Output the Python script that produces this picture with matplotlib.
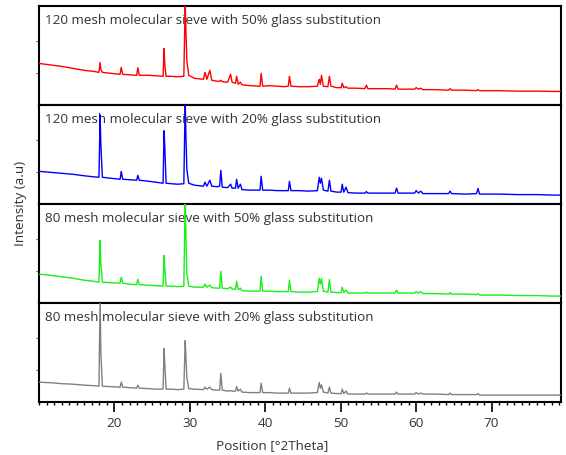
import matplotlib
matplotlib.use("Agg")
import matplotlib.pyplot as plt
from matplotlib.ticker import MultipleLocator

plt.rcParams['font.family'] = ['Open Sans', 'DejaVu Sans']

# 2Theta positions (shared by all four patterns)
two_theta = [10.0, 11.5, 13.0, 14.5, 16.0, 17.2, 17.95, 18.1, 18.2, 18.4,
             19.5, 20.75, 20.9, 21.1, 22.0, 22.95, 23.1, 23.3, 24.5, 25.5,
             26.45, 26.58, 26.68, 26.85, 27.5, 28.4, 29.2, 29.38, 29.48, 29.6,
             29.85, 30.6, 31.8, 32.0, 32.25, 32.65, 32.9, 33.6, 33.95, 34.1,
             34.3, 35.0, 35.4, 35.6, 36.05, 36.2, 36.4, 36.7, 36.9, 38.0,
             39.3, 39.45, 39.65, 40.5, 41.6, 42.5, 43.05, 43.2, 43.4, 44.5,
             45.7, 46.9, 47.15, 47.3, 47.45, 47.7, 48.3, 48.5, 48.7, 49.5,
             50.05, 50.2, 50.4, 50.7, 50.95, 52.0, 53.2, 53.4, 53.6, 55.0,
             56.3, 57.2, 57.4, 57.6, 59.8, 60.0, 60.3, 60.6, 60.9, 62.5,
             64.3, 64.5, 64.7, 66.5, 68.0, 68.2, 68.4, 71.0, 73.5, 76.0,
             78.0, 80.0]

# intensities (a.u.), each panel scaled 0-100
i_120_50 = [42, 40.5, 39, 37, 35, 34, 33, 43, 36, 33,
            32, 31, 38, 31, 30.5, 30, 37.7, 30, 30, 29.5,
            29, 57, 40, 29, 29, 28.5, 29, 105, 75, 45,
            30, 27, 26, 33, 26, 35, 25, 24, 24, 25,
            23.5, 23, 31, 23, 22, 29, 21, 23, 20.5, 19.5,
            19, 32, 19, 19.5, 19, 18.5, 19, 29, 19, 18.5,
            18.5, 19, 26, 21, 30, 19, 18.5, 29, 19, 17.5,
            17.5, 22, 17.5, 18.5, 17, 17, 16.5, 20, 16.5, 16.5,
            16.5, 16, 20, 16, 16, 17.5, 16, 17, 15.5, 15.5,
            15, 16.5, 15, 15, 14.5, 15.5, 14.5, 14.5, 14, 14,
            13.7, 13.7]

i_120_20 = [33, 32, 31, 30, 28.5, 27.5, 27, 90, 60, 27,
            26, 25, 33, 25, 24.5, 24, 29, 24, 23, 22,
            21, 74, 57, 21, 20.5, 20, 20.5, 105, 68, 35,
            21, 19, 18, 22, 18, 24, 18, 17.5, 18, 34,
            17, 16.5, 20, 16, 16, 25, 16, 20, 14.5, 14,
            14, 28, 14, 14, 13.5, 13.5, 13.5, 23, 13.5, 13.5,
            13, 13.5, 27, 21, 26, 14, 13, 24, 13, 12,
            12, 20, 12, 17, 11.5, 11, 11, 12.5, 11, 11,
            11, 11, 16, 11, 11, 13.5, 11, 13, 10.5, 10.5,
            10.5, 13, 10.5, 10, 10.5, 15.7, 10, 10, 9.5, 9.5,
            9, 9]

i_80_50 = [29, 28, 26.5, 25, 23, 22, 21, 63, 40, 21,
           20.5, 20, 26, 20, 19, 18.5, 24, 18.5, 18, 17.5,
           17, 48, 35, 17, 17, 16.5, 17, 105, 67, 30,
           17, 16, 16, 19, 16, 18, 15.5, 15, 15, 32,
           15, 14.5, 16, 14, 14, 22, 13.5, 15, 12.5, 12,
           12, 27, 12, 12, 11.5, 11.5, 11.5, 23, 11.5, 11,
           11, 11.5, 25, 19, 24.6, 12, 11, 23.7, 11, 10.5,
           10.5, 16, 10.5, 13, 10, 10, 10, 11, 10, 10,
           10, 10, 13, 10, 10, 11.5, 10, 11.5, 9.5, 9.5,
           9, 10.5, 9, 9, 8.5, 9.5, 8, 8, 7.5, 7.5,
           7, 7]

i_80_20 = [20, 19.5, 18.5, 18, 17, 16.5, 16, 105, 50, 16,
           15.5, 15, 20, 15, 14.5, 14, 17, 14, 13.5, 13,
           13, 54, 38, 13, 13, 12.5, 13, 62, 45, 25,
           13.5, 13, 12.5, 15, 13, 15, 12.5, 12, 12, 29,
           12, 11, 11.5, 11, 11, 15.7, 11, 13, 10, 9.5,
           9.5, 19, 9.5, 9.5, 9, 9, 9, 14, 9, 9,
           9, 9.5, 19.7, 14, 17.3, 10, 9, 15, 9, 8.5,
           8.5, 13, 8.5, 11, 8, 8, 8, 9, 8, 8,
           8, 8, 10, 8, 8, 9.5, 8, 9, 8, 8,
           7.5, 9, 7.5, 7.5, 7.5, 8.5, 7, 7, 7, 7,
           7, 7]

labels = ['120 mesh molecular sieve with 50% glass substitution',
          '120 mesh molecular sieve with 20% glass substitution',
          '80 mesh molecular sieve with 50% glass substitution',
          '80 mesh molecular sieve with 20% glass substitution']
series = [i_120_50, i_120_20, i_80_50, i_80_20]
colors = ['#ff0000', '#0000ff', '#19f019', '#808080']
major_ticks = [20, 30, 40, 50, 60, 70]
text_color = '#333333'

fig = plt.figure(figsize=(5.66, 4.56), dpi=100)
left, right = 39 / 566, 561 / 566
top, bottom = 1 - 7 / 456, 1 - 403 / 456
h = (top - bottom) / 4

for i in range(4):
    ax = fig.add_axes([left, top - (i + 1) * h, right - left, h])
    ax.plot(two_theta, series[i], color=colors[i], lw=1.0, zorder=3)
    ax.set_xlim(10, 79.2)
    ax.set_ylim(0, 100)
    ax.text(0.012, 0.833, labels[i], transform=ax.transAxes, ha='left', va='baseline',
            fontsize=9.7, color=text_color, zorder=1)
    for sp in ax.spines.values():
        sp.set_linewidth(1.5)
    ax.set_yticks([32, 65])
    ax.set_yticklabels([])
    ax.tick_params(axis='y', length=2.5, width=0.8, direction='out', color='#555555')
    if i < 3:
        ax.set_xticks([])
    else:
        ax.set_xticks(major_ticks)
        ax.xaxis.set_minor_locator(MultipleLocator(1))
        ax.tick_params(axis='x', which='major', length=7, width=1.2, labelsize=9.7,
                       labelcolor=text_color, pad=3)
        ax.tick_params(axis='x', which='minor', length=2.5, width=1.0)

fig.text(272 / 566, 1 - 446 / 456, 'Position [°2Theta]', ha='center', va='center',
         fontsize=9.7, color=text_color)
fig.text(21 / 566, 1 - 203 / 456, 'Intensity (a.u)', ha='center', va='center',
         rotation=90, fontsize=9.7, color=text_color)

fig.savefig('out.png', dpi=100)
